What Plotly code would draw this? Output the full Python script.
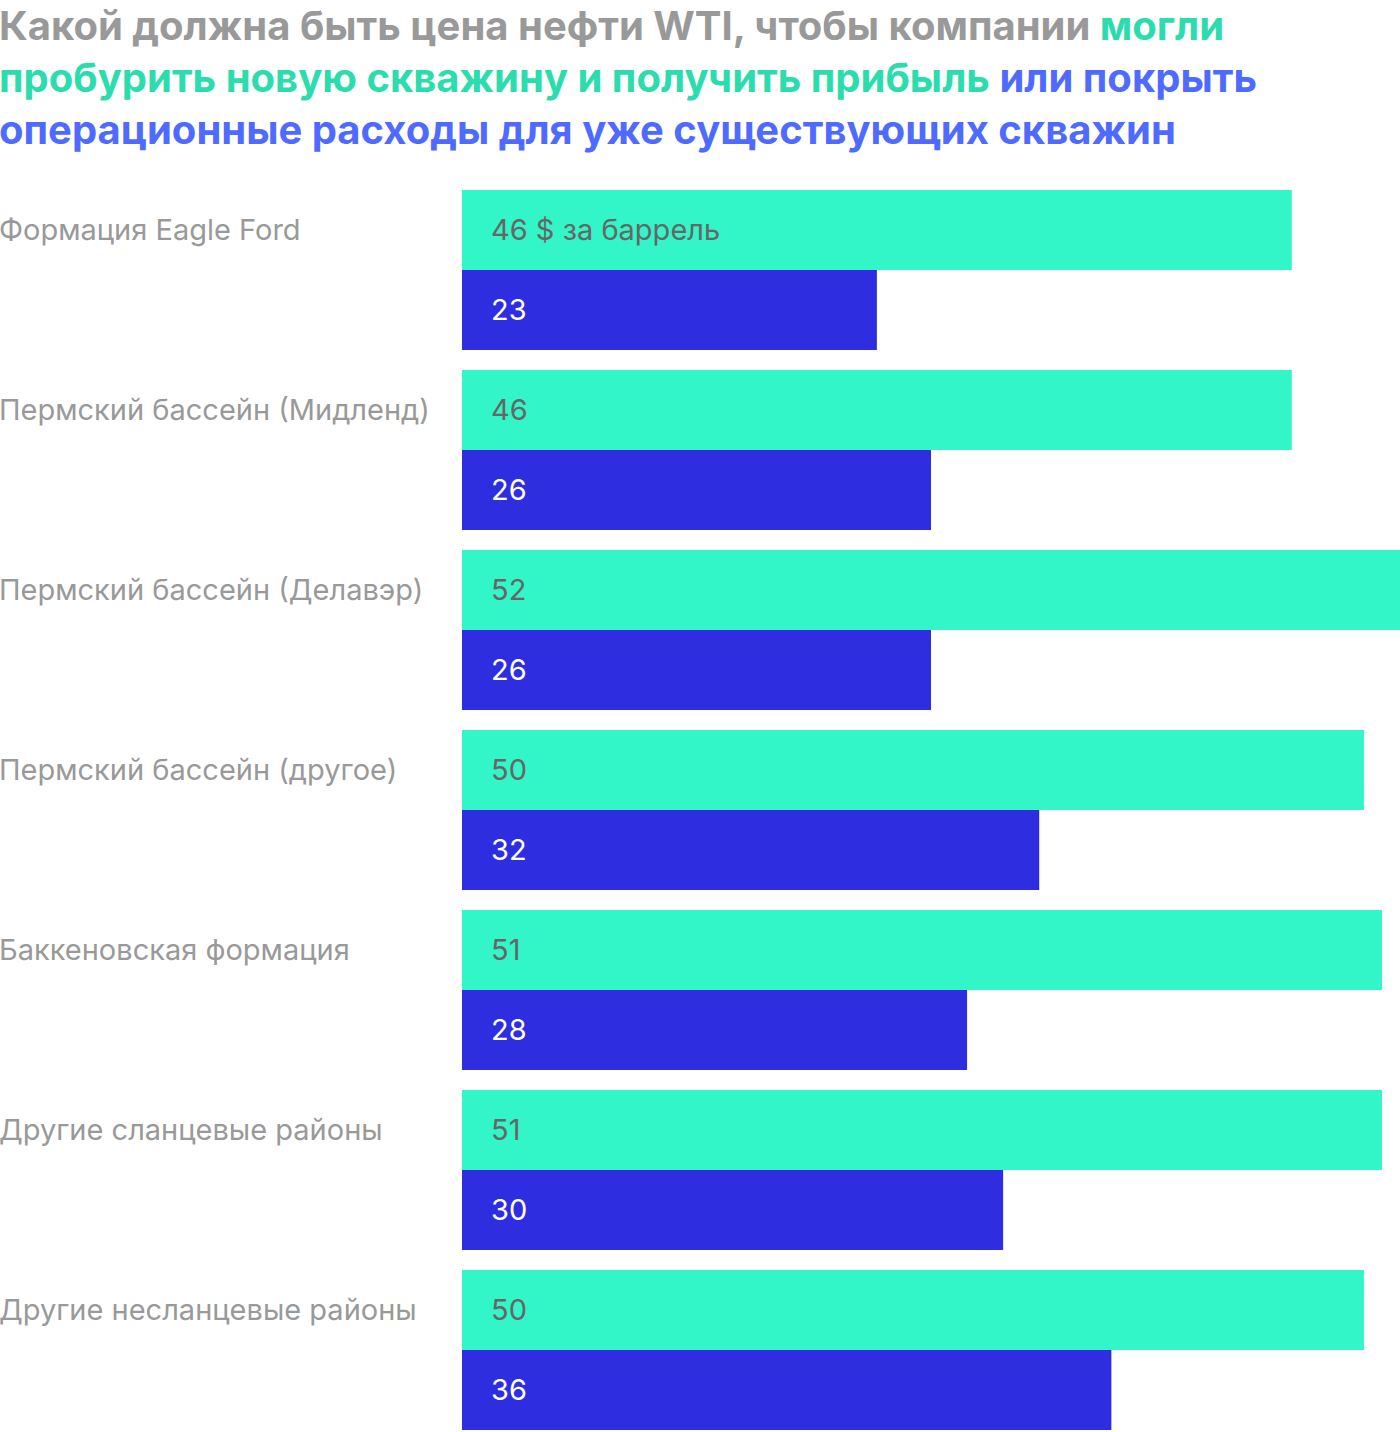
import plotly.graph_objects as go

# Data
regions = [
    "Формация Eagle Ford",
    "Пермский бассейн (Мидленд)",
    "Пермский бассейн (Делавэр)",
    "Пермский бассейн (другое)",
    "Баккеновская формация",
    "Другие сланцевые районы",
    "Другие несланцевые районы",
]
new_well = [46, 46, 52, 50, 51, 51, 50]
existing_well = [23, 26, 26, 32, 28, 30, 36]

GREEN = "#32F5C8"
BLUE = "#2E2EE0"
GRAY = "#999999"
FONT = "Inter"

W, H = 1400, 1432
LEFT = 462
TOP = 180
ROW = 180  # px per category

fig = go.Figure()
fig.add_trace(go.Bar(y=regions, x=new_well, orientation="h",
                     marker=dict(color=GREEN, line=dict(width=0)),
                     hoverinfo="x", name="new"))
fig.add_trace(go.Bar(y=regions, x=existing_well, orientation="h",
                     marker=dict(color=BLUE, line=dict(width=0)),
                     hoverinfo="x", name="existing"))

plot_w = W - LEFT
plot_h = H - TOP
x_label = -LEFT / plot_w

annotations = []
for i, (r, a, b) in enumerate(zip(regions, new_well, existing_well)):
    annotations.append(dict(x=x_label, xref="paper", xshift=-3, y=r, yref="y", yshift=41,
                            text=r, showarrow=False, xanchor="left",
                            font=dict(family=FONT, size=29, color=GRAY)))
    label_a = f"{a} $ за баррель" if i == 0 else str(a)
    annotations.append(dict(x=0, y=r, xshift=27, yshift=41, text=label_a,
                            showarrow=False, xanchor="left",
                            font=dict(family=FONT, size=29, color="#666666")))
    annotations.append(dict(x=0, y=r, xshift=27, yshift=-39, text=str(b),
                            showarrow=False, xanchor="left",
                            font=dict(family=FONT, size=29, color="white")))

title = (
    "Какой должна быть цена нефти WTI, чтобы компании "
    "<span style='color:#2BDDAC'>могли</span><br>"
    "<span style='color:#2BDDAC'>пробурить новую скважину и получить прибыль</span> "
    "<span style='color:#4F6BFF'>или покрыть</span><br>"
    "<span style='color:#4F6BFF'>операционные расходы для уже существующих скважин</span>"
)
annotations.append(dict(x=x_label, xref="paper", xshift=-3, y=1, yref="paper",
                        yshift=TOP - 77, text=title, showarrow=False,
                        xanchor="left", yanchor="middle", align="left",
                        font=dict(family=FONT, size=40, color=GRAY, weight="bold")))

fig.update_layout(
    width=W, height=H,
    margin=dict(l=LEFT, r=0, t=TOP, b=0),
    paper_bgcolor="white", plot_bgcolor="white",
    barmode="group", bargap=20 / ROW, bargroupgap=0,
    showlegend=False,
    xaxis=dict(range=[0, 52], visible=False, fixedrange=True),
    yaxis=dict(type="category", range=[-0.5 + plot_h / ROW, -0.5],
               visible=False, fixedrange=True),
    annotations=annotations,
)

fig.write_html("out.html", config={"displayModeBar": False},
               post_script="document.body.style.margin='0';")
